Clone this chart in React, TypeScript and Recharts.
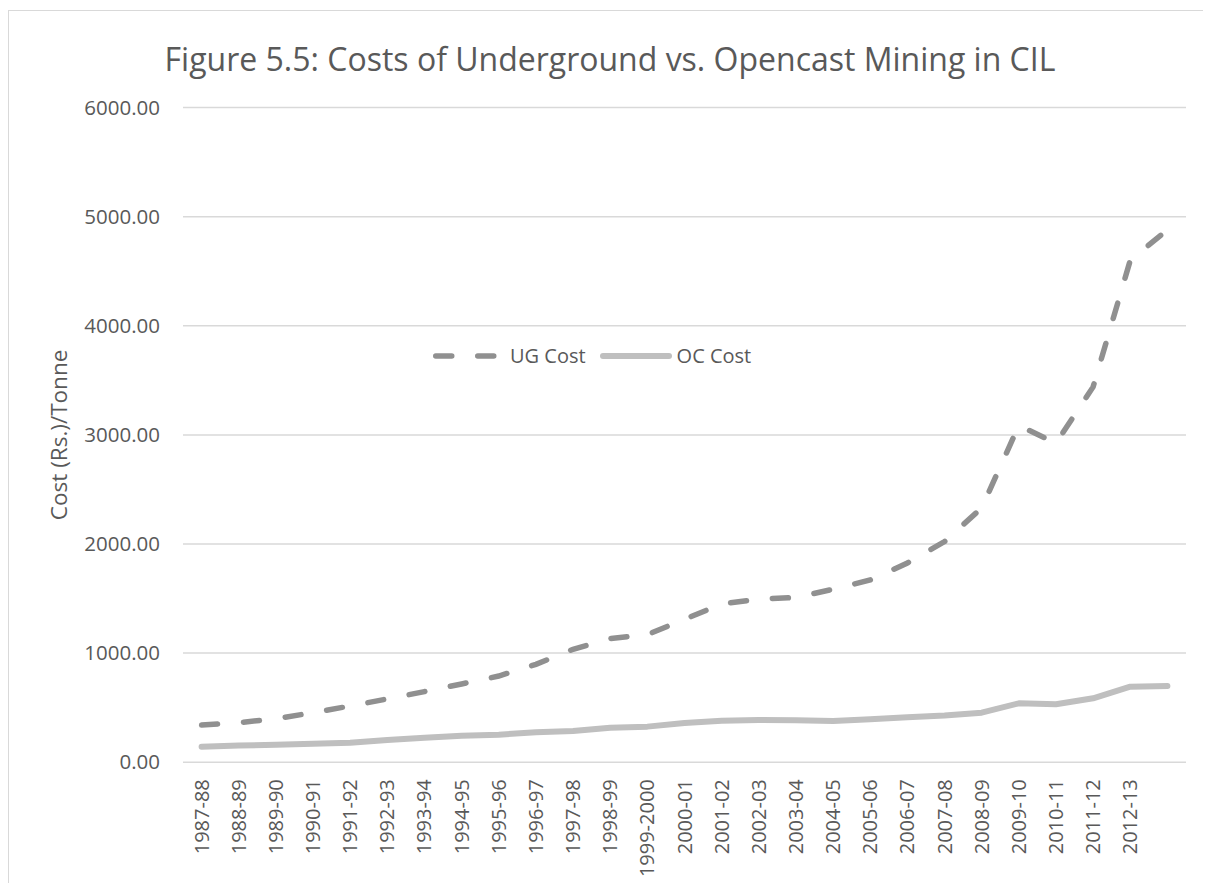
import React from 'react';
import { LineChart, Line, XAxis, YAxis, CartesianGrid, Legend, Label } from 'recharts';

const years = [
  '1987-88', '1988-89', '1989-90', '1990-91', '1991-92', '1992-93', '1993-94',
  '1994-95', '1995-96', '1996-97', '1997-98', '1998-99', '1999-2000', '2000-01',
  '2001-02', '2002-03', '2003-04', '2004-05', '2005-06', '2006-07', '2007-08',
  '2008-09', '2009-10', '2010-11', '2011-12', '2012-13', '2013-14',
];
const tickLabels = [
  '1987-88', '1988-89', '1989-90', '1990-91', '1991-92', '1992-93', '1993-94',
  '1994-95', '1995-96', '1996-97', '1997-98', '1998-99', '1999-2000', '2000-01',
  '2001-02', '2002-03', '2003-04', '2004-05', '2005-06', '2006-07', '2007-08',
  '2008-09', '2009-10', '2010-11', '2011-12', '2012-13', '',
];
const ugCost = [
  340, 362, 399, 454, 515, 580, 647, 717, 790, 897, 1035, 1133, 1169, 1310,
  1450, 1495, 1510, 1585, 1670, 1826, 2022, 2331, 3086, 2924, 3440, 4600, 4880,
];
const ocCost = [
  142, 152, 161, 170, 179, 204, 225, 243, 252, 274, 286, 316, 326, 360,
  381, 387, 384, 378, 393, 411, 427, 454, 540, 531, 586, 692, 699,
];
const yTicks = [0, 1000, 2000, 3000, 4000, 5000, 6000];

const title = 'Figure 5.5: Costs of Underground vs. Opencast Mining in CIL';
const yTitle = 'Cost (Rs.)/Tonne';
const ugName = 'UG Cost';
const ocName = 'OC Cost';

const data = years.map((year, i) => ({ year, ug: ugCost[i], oc: ocCost[i] }));

const FONT = '"Open Sans", sans-serif';
const TEXT = '#595959';
const UG_COLOR = '#909090';
const OC_COLOR = '#bfbfbf';
const DASH = '16 26';

const XTick = (props: any) => {
  const { x, y, index } = props;
  return (
    <g transform={`translate(${x},${y})`}>
      <text
        transform="rotate(-90)"
        textAnchor="end"
        dy="0.35em"
        fill={TEXT}
        fontSize={20}
        fontFamily={FONT}
      >
        {tickLabels[index]}
      </text>
    </g>
  );
};

const LegendContent = () => (
  <div
    style={{
      display: 'flex',
      alignItems: 'center',
      fontFamily: FONT,
      fontSize: 20,
      color: TEXT,
      lineHeight: '20px',
      whiteSpace: 'nowrap',
    }}
  >
    <svg width={66} height={12} style={{ display: 'block' }}>
      <line x1={2.75} y1={6} x2={61} y2={6} stroke={UG_COLOR} strokeWidth={5.5} strokeLinecap="round" strokeDasharray={DASH} />
    </svg>
    <span style={{ marginLeft: 11 }}>{ugName}</span>
    <svg width={72} height={12} style={{ display: 'block', marginLeft: 14 }}>
      <line x1={3} y1={6} x2={69} y2={6} stroke={OC_COLOR} strokeWidth={6} strokeLinecap="round" />
    </svg>
    <span style={{ marginLeft: 5 }}>{ocName}</span>
  </div>
);

const YTitle = (props: any) => {
  const vb = props.viewBox || {};
  const cx = (vb.x || 0) + 50;
  const cy = (vb.y || 0) + (vb.height || 0) / 2;
  return (
    <text
      x={cx}
      y={cy}
      transform={`rotate(-90, ${cx}, ${cy})`}
      textAnchor="middle"
      dy="0.35em"
      fill={TEXT}
      fontSize={22.5}
      fontFamily={FONT}
    >
      {yTitle}
    </text>
  );
};

export default function App() {
  return (
    <div
      style={{
        position: 'relative',
        marginTop: 2,
        width: 1203,
        height: 873,
        borderLeft: '1px solid #d9d9d9',
        borderTop: '1px solid #d9d9d9',
        background: '#fff',
        overflow: 'hidden',
      }}
    >
      <div
        style={{
          position: 'absolute',
          top: 26,
          left: 0,
          width: 1202,
          textAlign: 'center',
          fontFamily: FONT,
          fontSize: 32,
          lineHeight: 'normal',
          color: TEXT,
          whiteSpace: 'nowrap',
          zIndex: 2,
        }}
      >
        {title}
      </div>
      <LineChart
        width={1202}
        height={872}
        data={data}
        margin={{ top: 96.6, right: 25, bottom: 10.8, left: 0 }}
      >
        <CartesianGrid vertical={false} stroke="#d9d9d9" strokeWidth={1.5} />
        <XAxis
          dataKey="year"
          interval={0}
          tick={<XTick />}
          tickSize={0}
          tickMargin={17}
          axisLine={false}
          tickLine={false}
          height={110}
          padding={{ left: 18.6, right: 18.6 }}
        />
        <YAxis
          width={174}
          domain={[0, 6000]}
          ticks={yTicks}
          interval={0}
          tickFormatter={(v: number) => v.toFixed(2)}
          tick={{ fill: TEXT, fontSize: 20.5, fontFamily: FONT }}
          tickSize={0}
          tickMargin={23}
          axisLine={false}
          tickLine={false}
        >
          <Label content={<YTitle />} />
        </YAxis>
        <Legend
          layout="horizontal"
          verticalAlign="middle"
          align="center"
          content={<LegendContent />}
          wrapperStyle={{ position: 'absolute', top: 335, left: 424, width: 'auto', height: 'auto' }}
        />
        <Line
          type="linear"
          dataKey="ug"
          name={ugName}
          stroke={UG_COLOR}
          strokeWidth={5.5}
          strokeDasharray={DASH}
          strokeLinecap="round"
          dot={false}
          activeDot={false}
          isAnimationActive={false}
        />
        <Line
          type="linear"
          dataKey="oc"
          name={ocName}
          stroke={OC_COLOR}
          strokeWidth={6}
          strokeLinecap="round"
          strokeLinejoin="round"
          dot={false}
          activeDot={false}
          isAnimationActive={false}
        />
      </LineChart>
    </div>
  );
}
